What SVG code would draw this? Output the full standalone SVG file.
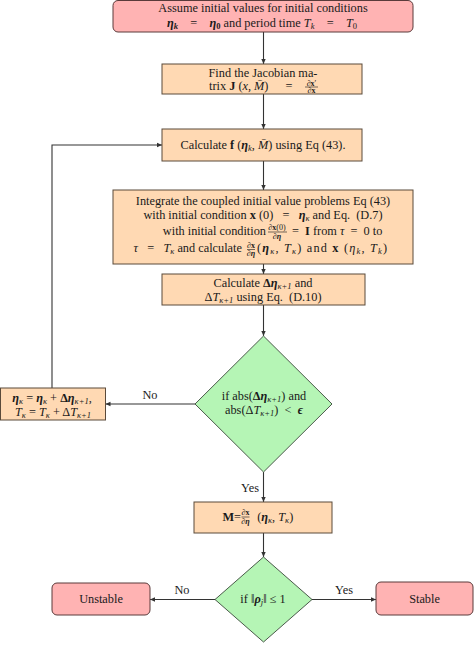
<svg xmlns="http://www.w3.org/2000/svg" width="474" height="645" viewBox="0 0 474 645">
<style>
text{font-family:"Liberation Serif","DejaVu Serif",serif;font-size:12.3px;fill:#1a1a1a;white-space:pre}
.c{text-anchor:middle}
.e{text-anchor:end}
.b{font-weight:bold}
.i{font-style:italic}
.bi{font-weight:bold;font-style:italic}
.s{font-size:8.5px}
.f{font-size:8px}
.red{fill:#ffb3b3;stroke:#5a3a3a;stroke-width:1}
.org{fill:#ffd9b3;stroke:#5a4a3a;stroke-width:1}
.grn{fill:#b5f5b5;stroke:#4a5a4a;stroke-width:1}
.ln{stroke:#333;stroke-width:1.1;fill:none;marker-end:url(#ah)}
.bar{stroke:#1a1a1a;stroke-width:0.6}
</style>
<defs>
<marker id="ah" markerUnits="userSpaceOnUse" markerWidth="6" markerHeight="6" refX="5" refY="3" orient="auto">
<path d="M0,0.8 L5,3 L0,5.2 z" fill="#333"/>
</marker>
</defs>
<g id="connectors">
<line class="ln" x1="263.5" y1="32" x2="263.5" y2="64"/>
<line class="ln" x1="263.5" y1="94" x2="263.5" y2="129"/>
<line class="ln" x1="263.5" y1="161" x2="263.5" y2="190"/>
<line class="ln" x1="263.5" y1="264" x2="263.5" y2="274"/>
<line class="ln" x1="263.5" y1="305" x2="263.5" y2="336"/>
<line class="ln" x1="195" y1="404" x2="105.5" y2="404"/>
<text class="c" x="150" y="399">No</text>
<polyline class="ln" points="52,388 52,145 162,145"/>
<line class="ln" x1="263.5" y1="472" x2="263.5" y2="502"/>
<text class="c" x="250" y="492">Yes</text>
<line class="ln" x1="263.5" y1="533" x2="263.5" y2="557"/>
<line class="ln" x1="215" y1="599.5" x2="150" y2="599.5"/>
<text class="c" x="182" y="594">No</text>
<line class="ln" x1="312" y1="599.5" x2="376" y2="599.5"/>
<text class="c" x="344" y="594">Yes</text>
</g>
<g id="start">
<rect class="red" x="113" y="0.5" width="300" height="31.5" rx="5"/>
<text class="c" x="263" y="12">Assume initial values for initial conditions</text>
<text class="c" x="262" y="27"><tspan class="bi">η</tspan><tspan class="s bi" dy="2">k</tspan><tspan dy="-2">    =    </tspan><tspan class="bi">η</tspan><tspan class="s b" dy="2">0</tspan><tspan dy="-2"> and period time </tspan><tspan class="i">T</tspan><tspan class="s i" dy="2">k</tspan><tspan dy="-2">    =    </tspan><tspan class="i">T</tspan><tspan class="s" dy="2">0</tspan></text>
</g>
<g id="jacobian">
<rect class="org" x="162" y="64" width="200" height="30"/>
<text class="c" x="263" y="77">Find the Jacobian ma-</text>
<text x="209" y="90">trix <tspan class="b">J</tspan> (<tspan class="i">x</tspan>, <tspan class="i">M̄</tspan>)</text>
<text class="c" x="289" y="90">=</text>
<text class="c f" x="311.5" y="85.5">∂<tspan class="b">x</tspan>′</text>
<line class="bar" x1="305" y1="87" x2="318" y2="87"/>
<text class="c f" x="311.5" y="93">∂<tspan class="b">x</tspan></text>
</g>
<g id="calcf">
<rect class="org" x="162" y="129" width="200" height="32"/>
<text class="c" x="263" y="149">Calculate <tspan class="b">f</tspan> (<tspan class="bi">η</tspan><tspan class="s i" dy="2">k</tspan><tspan dy="-2">, </tspan><tspan class="i">M̄</tspan>) using Eq (43).</text>
</g>
<g id="integrate">
<rect class="org" x="113" y="190" width="300" height="74"/>
<text class="c" x="263" y="205">Integrate the coupled initial value problems Eq (43)</text>
<text class="c" x="263" y="219">with initial condition <tspan class="b">x</tspan> (0)   =   <tspan class="bi">η</tspan><tspan class="s i" dy="2">κ</tspan><tspan dy="-2"> and Eq.  (D.7)</tspan></text>
<text class="e" x="266" y="235">with initial condition</text>
<text class="c f" x="277" y="230">∂<tspan class="b">x</tspan>(0)</text>
<line class="bar" x1="268" y1="232" x2="287" y2="232"/>
<text class="c f" x="277" y="239">∂<tspan class="bi">η</tspan></text>
<text x="292" y="235">=  <tspan class="b">I</tspan> from <tspan class="i">τ</tspan>  =  0 to</text>
<text class="e" x="245" y="252"><tspan class="i">τ</tspan>   =   <tspan class="i">T</tspan><tspan class="s i" dy="2">κ</tspan><tspan dy="-2"> and calculate </tspan></text>
<text class="c f" x="251" y="247.5">∂<tspan class="b">x</tspan></text>
<line class="bar" x1="247" y1="249.5" x2="255" y2="249.5"/>
<text class="c f" x="251" y="256">∂<tspan class="bi">η</tspan></text>
<text x="257" y="252" textLength="130" lengthAdjust="spacing">(<tspan class="bi">η</tspan><tspan class="s i" dy="2">κ</tspan><tspan dy="-2">, </tspan><tspan class="i">T</tspan><tspan class="s i" dy="2">κ</tspan><tspan dy="-2">) and </tspan><tspan class="b">x</tspan> (<tspan class="i">η</tspan><tspan class="s i" dy="2">k</tspan><tspan dy="-2">, </tspan><tspan class="i">T</tspan><tspan class="s i" dy="2">k</tspan><tspan dy="-2">)</tspan></text>
</g>
<g id="calcdelta">
<rect class="org" x="162" y="274" width="203" height="31"/>
<text class="c" x="263" y="287">Calculate <tspan class="b">Δ</tspan><tspan class="bi">η</tspan><tspan class="s i" dy="2">κ+1</tspan><tspan dy="-2"> and</tspan></text>
<text class="c" x="263" y="301">Δ<tspan class="i">T</tspan><tspan class="s i" dy="2">κ+1</tspan><tspan dy="-2"> using Eq.  (D.10)</tspan></text>
</g>
<g id="update">
<rect class="org" x="0.5" y="388" width="105" height="32"/>
<text class="c" x="52" y="402"><tspan class="bi">η</tspan><tspan class="s i" dy="2">κ</tspan><tspan dy="-2"> = </tspan><tspan class="bi">η</tspan><tspan class="s i" dy="2">κ</tspan><tspan dy="-2"> + </tspan><tspan class="b">Δ</tspan><tspan class="bi">η</tspan><tspan class="s i" dy="2">κ+1</tspan><tspan dy="-2">,</tspan></text>
<text class="c" x="53" y="416"><tspan class="i">T</tspan><tspan class="s i" dy="2">κ</tspan><tspan dy="-2"> = </tspan><tspan class="i">T</tspan><tspan class="s i" dy="2">κ</tspan><tspan dy="-2"> + Δ</tspan><tspan class="i">T</tspan><tspan class="s i" dy="2">κ+1</tspan></text>
</g>
<g id="converge">
<polygon class="grn" points="263.5,336 332,404 263.5,472 195,404"/>
<text class="c" x="264" y="400">if abs(<tspan class="b">Δ</tspan><tspan class="bi">η</tspan><tspan class="s i" dy="2">κ+1</tspan><tspan dy="-2">) and</tspan></text>
<text class="c" x="264" y="414">abs(Δ<tspan class="i">T</tspan><tspan class="s i" dy="2">κ+1</tspan><tspan dy="-2">)  &lt;  </tspan><tspan class="bi">ϵ</tspan></text>
</g>
<g id="monodromy">
<rect class="org" x="194" y="502" width="138" height="31"/>
<text class="e" x="241" y="521"><tspan class="b">M</tspan>=</text>
<text class="c f" x="245.5" y="515">∂<tspan class="b">x</tspan></text>
<line class="bar" x1="241.5" y1="517" x2="249.5" y2="517"/>
<text class="c f" x="245.5" y="524">∂<tspan class="bi">η</tspan></text>
<text x="251" y="521">  (<tspan class="bi">η</tspan><tspan class="s i" dy="2">κ</tspan><tspan dy="-2">, </tspan><tspan class="i">T</tspan><tspan class="s i" dy="2">κ</tspan><tspan dy="-2">)</tspan></text>
</g>
<g id="stability">
<polygon class="grn" points="263.5,557 312,599.5 263.5,642 215,599.5"/>
<text class="c" x="263" y="603">if ‖<tspan class="bi">ρ</tspan><tspan class="s i" dy="2">j</tspan><tspan dy="-2">‖ ≤ 1</tspan></text>
</g>
<g id="unstable">
<rect class="red" x="52" y="583" width="98" height="32" rx="5"/>
<text class="c" x="101" y="603">Unstable</text>
</g>
<g id="stable">
<rect class="red" x="376" y="582" width="97" height="33" rx="5"/>
<text class="c" x="424.5" y="603">Stable</text>
</g>
</svg>
